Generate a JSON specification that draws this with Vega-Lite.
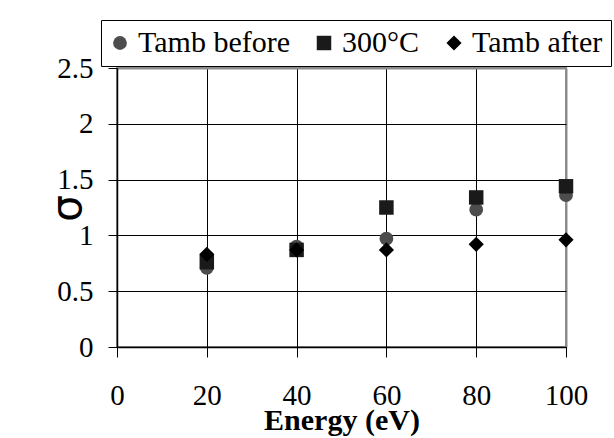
{
  "$schema": "https://vega.github.io/schema/vega-lite/v6.json",
  "width": 449,
  "height": 279,
  "autosize": {"type": "none"},
  "padding": {"left": 117, "top": 68, "right": 48, "bottom": 91},
  "background": "white",
  "data": {
    "values": [
      {"energy": 20, "sigma": 0.71, "series": "Tamb before"},
      {"energy": 40, "sigma": 0.9, "series": "Tamb before"},
      {"energy": 60, "sigma": 0.97, "series": "Tamb before"},
      {"energy": 80, "sigma": 1.23, "series": "Tamb before"},
      {"energy": 100, "sigma": 1.36, "series": "Tamb before"},
      {"energy": 20, "sigma": 0.76, "series": "300°C"},
      {"energy": 40, "sigma": 0.87, "series": "300°C"},
      {"energy": 60, "sigma": 1.25, "series": "300°C"},
      {"energy": 80, "sigma": 1.34, "series": "300°C"},
      {"energy": 100, "sigma": 1.44, "series": "300°C"},
      {"energy": 20, "sigma": 0.83, "series": "Tamb after"},
      {"energy": 40, "sigma": 0.87, "series": "Tamb after"},
      {"energy": 60, "sigma": 0.87, "series": "Tamb after"},
      {"energy": 80, "sigma": 0.92, "series": "Tamb after"},
      {"energy": 100, "sigma": 0.96, "series": "Tamb after"}
    ]
  },
  "mark": {"type": "point", "filled": true, "opacity": 1},
  "encoding": {
    "x": {
      "field": "energy",
      "type": "quantitative",
      "scale": {"domain": [0, 100], "nice": false},
      "axis": {
        "values": [0, 20, 40, 60, 80, 100],
        "title": "Energy (eV)",
        "grid": true,
        "gridColor": {"condition": {"test": "datum.value == 100", "value": "#8c8c8c"}, "value": "black"},
        "gridWidth": {"condition": {"test": "datum.value == 100", "value": 2}, "value": 1},
        "tickSize": 10,
        "labelPadding": 24,
        "labelFlush": false,
        "titlePadding": -5,
        "titleFontSize": 30,
        "titleFontWeight": "bold"
      }
    },
    "y": {
      "field": "sigma",
      "type": "quantitative",
      "scale": {"domain": [0, 2.5], "nice": false},
      "axis": {
        "values": [0, 0.5, 1, 1.5, 2, 2.5],
        "format": "~g",
        "title": "σ",
        "grid": true,
        "gridColor": {"condition": {"test": "datum.value == 2.5", "value": "#8c8c8c"}, "value": "black"},
        "gridWidth": {"condition": {"test": "datum.value == 2.5", "value": 2}, "value": 1},
        "tickSize": 9,
        "labelPadding": 15,
        "labelFlush": false,
        "titleX": -28,
        "titleY": 140,
        "titleFont": "DejaVu Sans",
        "titleFontSize": 42,
        "titleFontWeight": "normal"
      }
    },
    "size": {
      "field": "series",
      "type": "nominal",
      "scale": {"domain": ["Tamb before", "300°C", "Tamb after"], "range": [190, 230, 330]},
      "legend": null
    },
    "shape": {
      "field": "series",
      "type": "nominal",
      "scale": {"domain": ["Tamb before", "300°C", "Tamb after"], "range": ["circle", "square", "diamond"]}
    },
    "color": {
      "field": "series",
      "type": "nominal",
      "scale": {"domain": ["Tamb before", "300°C", "Tamb after"], "range": ["#4d4d4d", "#1a1a1a", "#000000"]},
      "legend": {
        "title": null,
        "orient": "none",
        "direction": "horizontal",
        "legendX": -16,
        "legendY": -48,
        "padding": 8,
        "strokeColor": "black",
        "fillColor": "white",
        "symbolSize": 160,
        "symbolOffset": -4,
        "labelOffset": 3,
        "columnPadding": 23,
        "labelFontSize": 30,
        "labelColor": "black",
        "labelLimit": 0,
        "encode": {"labels": {"update": {"font": {"value": "Liberation Serif"}}}}
      }
    }
  },
  "config": {
    "font": "Liberation Serif",
    "view": {"stroke": "#8c8c8c", "strokeWidth": 2},
    "axis": {
      "domainColor": "black",
      "domainWidth": 1.5,
      "tickColor": "black",
      "tickWidth": 1,
      "labelFontSize": 29,
      "labelColor": "black",
      "titleColor": "black"
    }
  }
}
